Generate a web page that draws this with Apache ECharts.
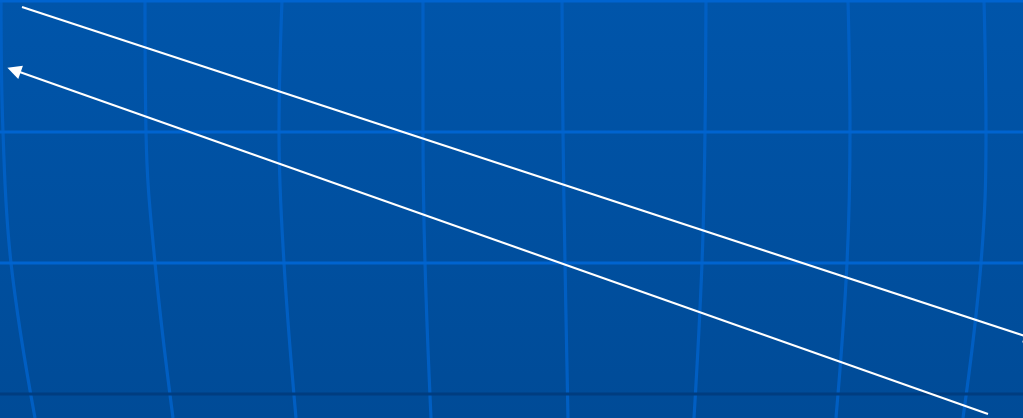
<!DOCTYPE html>
<html>
<head>
<meta charset="utf-8">
<script src="https://cdn.jsdelivr.net/npm/echarts@6/dist/echarts.min.js"></script>
<style>
html,body{margin:0;padding:0;background:#0052a4;}
#chart{width:1023px;height:418px;}
</style>
</head>
<body>
<div id="chart"></div>
<script>
// Grid line levels (y in picture units, top = 0)
const levelY = [0, 132, 263, 418];
// x position of each curved vertical grid line at each level
const verticalLinesX = [
  [1, 3, 11, 35],
  [145, 146, 155, 173],
  [282, 279, 284, 296],
  [423, 423, 425, 431],
  [562, 563, 565, 568],
  [706, 705, 702, 694],
  [848, 850, 847, 836],
  [984, 986, 981, 963]
];
// horizontal light grid lines
const horizontalY = [1, 132, 263];
// dark baseline
const darkLineY = [394];
// the two white arrows: [start, end], arrowhead centred on end
const arrowUpperRight = [[22, 7], [1031, 338]];
const arrowLowerLeft = [[988, 414], [14, 70]];

const chart = echarts.init(document.getElementById('chart'));
const series = [];

verticalLinesX.forEach(function (xs) {
  series.push({
    type: 'line',
    smooth: 0.4,
    symbol: 'none',
    silent: true,
    data: xs.map(function (x, i) { return [x, levelY[i]]; }),
    lineStyle: { color: '#0062c9', width: 3.2, opacity: 0.85 },
    z: 2
  });
});

horizontalY.forEach(function (y) {
  series.push({
    type: 'line',
    symbol: 'none',
    silent: true,
    data: [[0, y], [1023, y]],
    lineStyle: { color: '#0064d0', width: 3 },
    z: 3
  });
});

darkLineY.forEach(function (y) {
  series.push({
    type: 'line',
    symbol: 'none',
    silent: true,
    data: [[0, y], [1023, y]],
    lineStyle: { color: '#003d80', width: 3 },
    z: 3
  });
});

series.push({
  type: 'lines',
  coordinateSystem: 'cartesian2d',
  symbol: ['none', 'triangle'],
  symbolSize: [10, 14],
  silent: true,
  lineStyle: { color: '#ffffff', width: 2, opacity: 1, curveness: 0 },
  data: [
    { coords: arrowUpperRight },
    { coords: arrowLowerLeft }
  ],
  z: 10
});

chart.setOption({
  animation: false,
  backgroundColor: {
    type: 'linear', x: 0, y: 0, x2: 0, y2: 1,
    colorStops: [
      { offset: 0, color: '#0055aa' },
      { offset: 1, color: '#004b97' }
    ]
  },
  grid: { left: 0, right: 0, top: 0, bottom: 0 },
  xAxis: {
    type: 'value', min: 0, max: 1023, show: false
  },
  yAxis: {
    type: 'value', min: 0, max: 418, inverse: true, show: false
  },
  series: series
});
</script>
</body>
</html>
